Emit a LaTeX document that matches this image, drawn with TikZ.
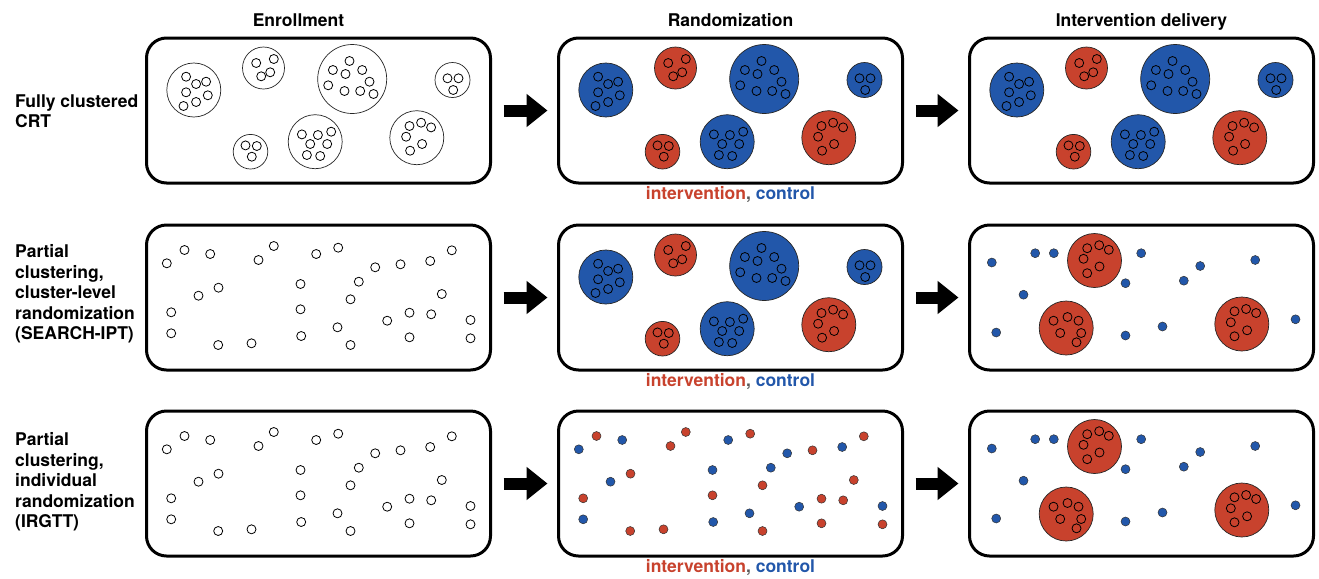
\documentclass[tikz,border=0pt]{standalone}
\usepackage{fontspec}
\setmainfont{TeX Gyre Heros}
\usetikzlibrary{positioning,arrows.meta}

\definecolor{cred}{RGB}{200,66,45}
\definecolor{cblue}{RGB}{34,87,170}

% one cluster: x, y, radius, fill, member offsets
\newcommand{\cluster}[5]{%
  \draw[clus,fill=#4] (#1,#2) circle (#3);
  \foreach \dx/\dy in {#5} \draw[memb] (#1+\dx,#2+\dy) circle (4.5);}

% the seven clusters of the first row, #1 = intervention arm, #2 = control arm
\newcommand{\sevenclusters}[2]{%
  \cluster{47.3}{52}{27}{#2}{-7.7/-13.3, 2.3/-6, 12.3/-8.3, -7.7/2.3, 14/5.3, 2.3/12, -10.3/16}
  \cluster{117}{30}{21}{#1}{-7.3/-5, 10.3/-9, -2.3/8.3, 6.7/4.3}
  \cluster{205.7}{41}{34.5}{#2}{-2.7/-18, -19.3/-9, -6.7/-5, 10/-9, 17.3/2.7, -24/6.3, -7.7/12, 8/12, 21.3/15}
  \cluster{306}{42}{17.5}{#2}{-5/-1.7, 6/-1.7, 0.7/10}
  \cluster{104}{113.7}{17.3}{#1}{-5/-6.3, 6.3/-5.7, 1.3/5}
  \cluster{168.7}{103.7}{27}{#2}{-13.3/-7.3, 2.7/-6.7, 16/-10, -5/2.3, 12/2.3, -8.3/13.3, 5/14.3}
  \cluster{270.3}{99.7}{27}{#1}{-7.3/-11.7, 4.3/-15, 14.3/-10.3, -10.7/-1, 5.3/6.3, -6.7/13}}

% clusters left after delivery (partial clustering)
\newcommand{\threeclusters}{%
  \cluster{125}{35.5}{27}{cred}{-7.3/-12.3, 4.7/-15.3, 14.3/-10.7, -11/-1.7, 5/6, -7.3/12.7}
  \cluster{96.7}{103}{27}{cred}{-12.7/-7.3, 1.3/-11, 12.3/-7.3, -6/5, 15/5, 10.3/14.3}
  \cluster{272.3}{99}{27}{cred}{-7.3/-12.7, 4.3/-15, 14.3/-11, -11/-1.7, 5.3/6.3, -7.3/12.3}}

% individuals
\newcommand{\ctrlpts}{20.3/38.3, 63.7/29, 169.7/29, 228.7/42.3, 283.7/36, 52/70.7, 154/59, 212.3/56.7, 240.7/95.7, 324/95, 24.7/108.3, 154.7/111, 191/102.3}
\newcommand{\intvpts}{38/25, 112/35, 127.3/21, 191.7/22.7, 254/39.3, 305.3/25.3, 72/62.7, 204/74.3, 295.3/69, 24.7/87.3, 154/84.3, 263/87.7, 284.7/89.3, 71.7/120, 105/118.3, 204/120, 263/112.3, 324/113.3}
\newcommand{\restpts}{22.3/37.5, 65.7/28.2, 84.3/28.2, 171.7/28.2, 230.7/41, 285.7/35, 54/69.7, 156/58.2, 214.3/55.7, 26.7/107.5, 156/110.5, 193/101.5, 326/94.3}

\begin{document}
\begin{tikzpicture}[x=1pt,y=-1pt,
    panel/.style={draw,line width=3pt,rounded corners=20pt,minimum width=344pt,
      minimum height=145pt,outer sep=0pt,inner sep=0pt},
    clus/.style={draw=black!85,line width=0.7pt},
    memb/.style={draw=black,line width=0.8pt},
    hollow/.style={draw=black,line width=0.8pt,fill=white},
    dotc/.style={draw=black!80,line width=0.5pt,fill=#1},
    head/.style={font=\bfseries\fontsize{17.5}{20.5}\selectfont,anchor=base},
    rowlab/.style={font=\bfseries\fontsize{17.5}{20.5}\selectfont,align=left,anchor=west,inner sep=0pt},
    legend/.style={font=\bfseries\fontsize{17.5}{20.5}\selectfont,anchor=base},
    bigarr/.style={line width=12pt,-{Triangle[width=32pt,length=21pt]},
      shorten <=13pt,shorten >=11pt}]

  \path[fill=white] (0,0) rectangle (1319,578);

  % panels
  \node[panel] (enr1) at (318.5,110.5) {};
  \node[panel] (rnd1) at (730.5,110.5) {};
  \node[panel] (int1) at (1141.5,110.5) {};
  \node[panel] (enr2) at (318.5,297.5) {};
  \node[panel] (rnd2) at (730.5,297.5) {};
  \node[panel] (int2) at (1141.5,297.5) {};
  \node[panel] (enr3) at (318.5,483.5) {};
  \node[panel] (rnd3) at (730.5,483.5) {};
  \node[panel] (int3) at (1141.5,483.5) {};

  % column heads
  \node[head] (h1) at ([xshift=-20pt,yshift=12pt]enr1.north) {Enrollment};
  \node[head] (h2) at ([yshift=12pt]rnd1.north) {Randomization};
  \node[head] (h3) at ([yshift=12pt]int1.north) {Intervention delivery};

  % row labels
  \node[rowlab] (lab1) at (15,111) {Fully clustered\\CRT};
  \node[rowlab] (lab2) at (15,294) {Partial\\clustering,\\cluster-level\\randomization\\(SEARCH-IPT)};
  \node[rowlab] (lab3) at (15,482) {Partial\\clustering,\\individual\\randomization\\(IRGTT)};

  % arm legends
  \node[legend] (leg1) at ([yshift=-16pt]rnd1.south) {\textcolor{cred}{intervention}\textcolor{black!65}{,} \textcolor{cblue}{control}};
  \node[legend] (leg2) at ([yshift=-16pt]rnd2.south) {\textcolor{cred}{intervention}\textcolor{black!65}{,} \textcolor{cblue}{control}};
  \node[legend] (leg3) at ([yshift=-16pt]rnd3.south) {\textcolor{cred}{intervention}\textcolor{black!65}{,} \textcolor{cblue}{control}};

  % arrows
  \draw[bigarr] (enr1) -- (rnd1);
  \draw[bigarr] (rnd1) -- (int1);
  \draw[bigarr] (enr2) -- (rnd2);
  \draw[bigarr] (rnd2) -- (int2);
  \draw[bigarr] (enr3) -- (rnd3);
  \draw[bigarr] (rnd3) -- (int3);

  % fully clustered
  \begin{scope}[shift={(enr1.north west)}]
    \sevenclusters{white}{white}
  \end{scope}
  \begin{scope}[shift={(rnd1.north west)}]
    \sevenclusters{cred}{cblue}
  \end{scope}
  \begin{scope}[shift={(int1.north west)}]
    \sevenclusters{cred}{cblue}
  \end{scope}

  % partial clustering, cluster-level
  \begin{scope}[shift={(enr2.north west)}]
    \foreach \px/\py in \ctrlpts \draw[hollow] (\px,\py) circle (4.5);
    \foreach \px/\py in \intvpts \draw[hollow] (\px,\py) circle (4.5);
  \end{scope}
  \begin{scope}[shift={(rnd2.north west)}]
    \sevenclusters{cred}{cblue}
  \end{scope}
  \begin{scope}[shift={(int2.north west)}]
    \threeclusters
    \foreach \px/\py in \restpts \draw[dotc=cblue] (\px,\py) circle (4.5);
  \end{scope}

  % partial clustering, individual
  \begin{scope}[shift={(enr3.north west)}]
    \foreach \px/\py in \ctrlpts \draw[hollow] (\px,\py) circle (4.5);
    \foreach \px/\py in \intvpts \draw[hollow] (\px,\py) circle (4.5);
  \end{scope}
  \begin{scope}[shift={(rnd3.north west)}]
    \foreach \px/\py in \ctrlpts \draw[dotc=cblue] (\px,\py) circle (4.5);
    \foreach \px/\py in \intvpts \draw[dotc=cred] (\px,\py) circle (4.5);
  \end{scope}
  \begin{scope}[shift={(int3.north west)}]
    \threeclusters
    \foreach \px/\py in \restpts \draw[dotc=cblue] (\px,\py) circle (4.5);
  \end{scope}
\end{tikzpicture}
\end{document}
